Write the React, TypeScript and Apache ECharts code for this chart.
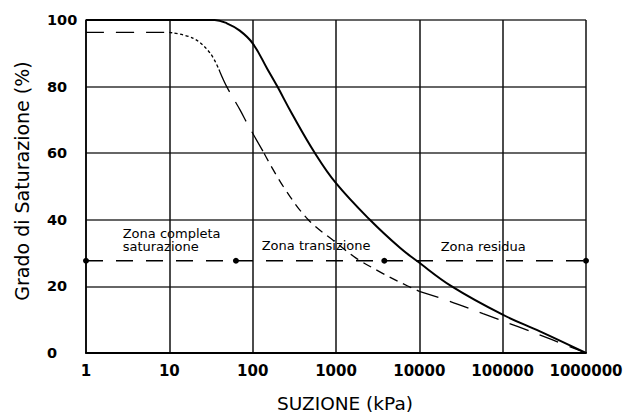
import React, { useEffect, useRef } from 'react';
import * as echarts from 'echarts';

// ---- data ----
const xTickLabels = ['1', '10', '100', '1000', '10000', '100000', '1000000'];
const yTickLabels = ['0', '20', '40', '60', '80', '100'];

// solid curve (drying curve)
const solidX = [1, 10, 35, 49, 70, 100, 150, 198, 294, 560, 1000, 2550, 5900, 9300, 24500, 100000, 280000, 1000000];
const solidY = [100, 100, 100, 99, 96.8, 93, 85.3, 80, 72, 60, 51, 40, 31.5, 27.7, 20, 11.5, 6.5, 0];

// dashed curve (wetting curve)
const dashedX = [1, 10, 19.4, 30.8, 40.5, 48.8, 70.5, 87.9, 137, 233, 465, 1020, 1740, 3400, 5900, 10000, 22080, 58070, 152800, 390800, 1000000];
const dashedY = [96.3, 96.3, 94.5, 90.1, 84.4, 80, 73, 68.5, 60, 50, 40, 33, 28.5, 24.3, 21.2, 18.5, 15.7, 11.8, 7.9, 4, 0];
// index ranges of the dashed curve drawn with different dash patterns
const dashedSegments = [[0, 1], [1, 4], [4, 8], [8, 15], [15, 20]];

// zone boundary line
const zoneLineX = [1, 63, 3800, 1000000];
const zoneLineY = [27.7, 27.7, 27.7, 27.7];

const zoneLabels = ['Zona completa\nsaturazione', 'Zona transizione', 'Zona residua'];
const xTitle = 'SUZIONE (kPa)';
const yTitle = 'Grado di Saturazione (%)';

const FONT = '"DejaVu Sans", Verdana, sans-serif';

export default function App() {
  const ref = useRef<HTMLDivElement>(null);

  useEffect(() => {
    if (!ref.current) return;
    const chart = echarts.init(ref.current, undefined, { renderer: 'svg' });

    const dashPatterns: number[][] = [[18, 12], [3, 2.5], [22, 12], [9, 6], [20, 12]];
    const dashedSeries = dashedSegments.map((seg, i) => ({
      type: 'line',
      data: dashedX.slice(seg[0], seg[1] + 1).map((x, k) => [x, dashedY[seg[0] + k]]),
      smooth: 0.35,
      showSymbol: false,
      symbol: 'none',
      lineStyle: { color: '#000', width: 1.3, type: dashPatterns[i] },
      z: 3,
    }));

    chart.setOption({
      animation: false,
      backgroundColor: '#fff',
      grid: { left: 86, right: 51, top: 20, bottom: 61, containLabel: false, outerBoundsMode: 'none' },
      xAxis: {
        type: 'log',
        logBase: 10,
        min: 1,
        max: 1000000,
        splitNumber: 6,
        axisLine: { show: true, lineStyle: { color: '#000', width: 2 } },
        axisTick: { show: false },
        minorTick: { show: false },
        axisLabel: {
          margin: 10,
          color: '#000',
          fontFamily: FONT,
          fontWeight: 'bold',
          fontSize: 15,
          formatter: (v: number) => xTickLabels[Math.round(Math.log10(v))] ?? '',
        },
        splitLine: { show: true, lineStyle: { color: '#111', width: 1.5 } },
      },
      yAxis: {
        type: 'value',
        min: 0,
        max: 100,
        interval: 20,
        axisLine: { show: true, lineStyle: { color: '#000', width: 1.5 } },
        axisTick: { show: false },
        axisLabel: {
          margin: 39,
          align: 'left',
          color: '#000',
          fontFamily: FONT,
          fontWeight: 'bold',
          fontSize: 14.5,
          formatter: (v: number) => yTickLabels[Math.round(v / 20)] ?? '',
        },
        splitLine: { show: true, lineStyle: { color: '#333', width: 1.5 } },
      },
      graphic: [
        {
          type: 'text', x: 345, y: 403,
          style: { text: xTitle, font: `18.5px ${FONT}`, fill: '#000', textAlign: 'center', textVerticalAlign: 'middle' },
        },
        {
          type: 'text', x: 22, y: 181, rotation: Math.PI / 2,
          style: { text: yTitle, font: `19px ${FONT}`, fill: '#000', textAlign: 'center', textVerticalAlign: 'middle' },
        },
        {
          type: 'text', x: 122.7, y: 240,
          style: { text: zoneLabels[0], font: `13px ${FONT}`, lineHeight: 13.5, fill: '#000', textAlign: 'left', textVerticalAlign: 'middle' },
        },
        {
          type: 'text', x: 261.7, y: 245,
          style: { text: zoneLabels[1], font: `13px ${FONT}`, fill: '#000', textAlign: 'left', textVerticalAlign: 'middle' },
        },
        {
          type: 'text', x: 440.7, y: 246,
          style: { text: zoneLabels[2], font: `13px ${FONT}`, fill: '#000', textAlign: 'left', textVerticalAlign: 'middle' },
        },
      ],
      series: [
        {
          type: 'line',
          data: solidX.map((x, i) => [x, solidY[i]]),
          smooth: 0.4,
          showSymbol: false,
          symbol: 'none',
          lineStyle: { color: '#000', width: 2 },
          z: 4,
        },
        ...dashedSeries,
        {
          type: 'line',
          data: zoneLineX.map((x, i) => [x, zoneLineY[i]]),
          symbol: 'circle',
          symbolSize: 6,
          showSymbol: true,
          itemStyle: { color: '#000' },
          lineStyle: { color: '#000', width: 1.3, type: [17, 13] },
          z: 5,
        },
      ],
    });

    return () => chart.dispose();
  }, []);

  return (
    <div
      ref={ref}
      style={{ position: 'absolute', left: 0, top: 0, width: 637, height: 414 }}
    />
  );
}
